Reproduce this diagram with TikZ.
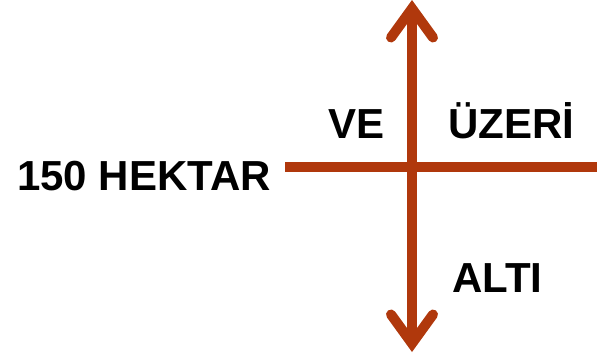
\documentclass[tikz,border=0pt]{standalone}
\usepackage{fontspec}
\setmainfont{Liberation Sans}
\usepackage{tikz}
\usetikzlibrary{arrows.meta}
\definecolor{rust}{RGB}{176,56,12}

\begin{document}
\begin{tikzpicture}[x=1pt,y=-1pt,
  lbl/.style={anchor=base west,inner sep=0pt,font=\fontsize{42}{42}\selectfont\bfseries},
  axis/.style={rust,line width=10pt},
  barb/.tip={Straight Barb[length=29pt,width=42pt,line cap=round]}]
\useasboundingbox (0,0) rectangle (597,354);
\coordinate (left) at (285,167);
\coordinate (right) at (597,167);
\coordinate (top) at (412,0);
\coordinate (bottom) at (412,352);
\draw[axis] (left)--(right);
\draw[axis,barb-barb] (top)--(bottom);
\node[lbl] (size) at (17,190) {150 HEKTAR};
\node[lbl] (ve) at (328,138) {VE};
\node[lbl] (above) at (448,138) {ÜZERİ};
\node[lbl] (below) at (452,292) {ALTI};
\end{tikzpicture}
\end{document}
